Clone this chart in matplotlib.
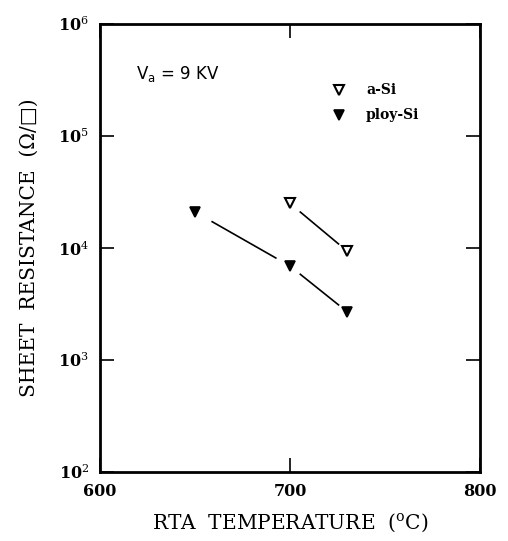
import numpy as np
import matplotlib.pyplot as plt
from matplotlib.ticker import FixedLocator, NullLocator

# sheet resistance vs RTA temperature
temp_asi = [700, 730]
rs_asi = [2.5e4, 9.4e3]
temp_poly = [650, 700, 730]
rs_poly = [2.1e4, 6.9e3, 2.7e3]

y_ticks = [1e2, 1e3, 1e4, 1e5, 1e6]
y_labels = ['10$^2$', '10$^3$', '10$^4$', '10$^5$', '10$^6$']
x_ticks = [600, 700, 800]

plt.rcParams['font.family'] = ['DejaVu Serif']
plt.rcParams['mathtext.fontset'] = 'dejavuserif'

fig = plt.figure(figsize=(5.08, 5.41), dpi=100)
ax = fig.add_axes([0.197, 0.1275, 0.748, 0.828])
ax.set_yscale('log')
ax.set_xlim(600, 800)
ax.set_ylim(1e2, 1e6)


def gap_line(xs, ys, t0=0.18, t1=0.85):
    # connecting segments that stop short of the markers
    for i in range(len(xs) - 1):
        lx0, lx1 = xs[i], xs[i + 1]
        ly0, ly1 = np.log10(ys[i]), np.log10(ys[i + 1])
        ax.plot([lx0 + t0 * (lx1 - lx0), lx0 + t1 * (lx1 - lx0)],
                [10 ** (ly0 + t0 * (ly1 - ly0)), 10 ** (ly0 + t1 * (ly1 - ly0))],
                color='black', lw=1.2)


gap_line(temp_asi, rs_asi)
gap_line(temp_poly, rs_poly)
ax.plot(temp_asi, rs_asi, 'v', ms=7.5, mfc='white', mec='black', mew=1.5)
ax.plot(temp_poly, rs_poly, 'v', ms=7.5, mfc='black', mec='black', mew=1.2)

# legend drawn by hand
ax.plot([726], [2.6e5], 'v', ms=7.5, mfc='white', mec='black', mew=1.5)
ax.plot([726], [1.55e5], 'v', ms=7.5, mfc='black', mec='black', mew=1.2)
ax.text(740, 2.6e5, 'a-Si', fontsize=10, fontweight='bold', va='center')
ax.text(740, 1.55e5, 'ploy-Si', fontsize=10, fontweight='bold', va='center')
ax.text(619, 3.6e5, '$\\mathregular{V_a}$ = 9 KV', fontsize=12, va='center',
        family=['DejaVu Sans'])

ax.yaxis.set_major_locator(FixedLocator(y_ticks))
ax.set_yticklabels(y_labels)
ax.yaxis.set_minor_locator(NullLocator())
ax.xaxis.set_major_locator(FixedLocator(x_ticks))
ax.tick_params(axis='both', direction='in', length=10, width=1.2,
               top=True, right=True, labelsize=11.5, pad=8)
for lbl in ax.get_xticklabels() + ax.get_yticklabels():
    lbl.set_fontweight('bold')
for s in ax.spines.values():
    s.set_linewidth(2)

ax.set_xlabel('RTA  TEMPERATURE  ($\\mathregular{^o}$C)', fontsize=14.5, labelpad=8)
ax.set_ylabel('SHEET  RESISTANCE  (Ω/□)', fontsize=14.5, labelpad=14,
              family=['DejaVu Serif', 'DejaVu Sans'])

fig.savefig('out.png', dpi=100)
